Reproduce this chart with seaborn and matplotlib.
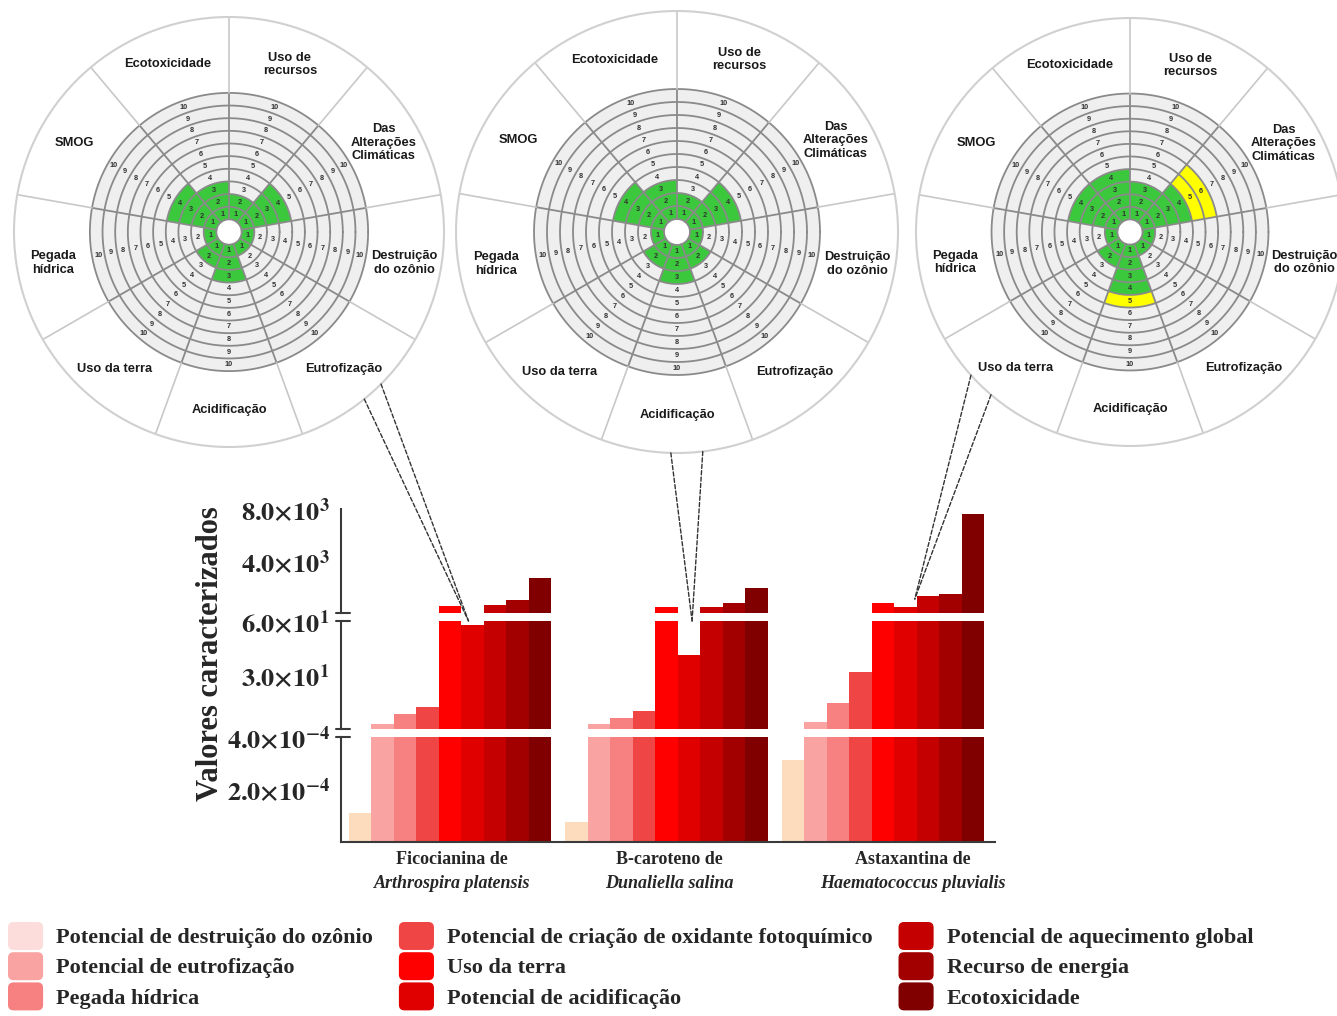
import numpy as np
import pandas as pd
import matplotlib
matplotlib.use("Agg")
import matplotlib.pyplot as plt
from matplotlib.patches import ConnectionPatch, Patch, FancyBboxPatch
from matplotlib.legend_handler import HandlerPatch
from matplotlib.font_manager import FontProperties
import seaborn as sns

# ------------------------------------------------------------------ data
products = ["Ficocianina", "B-caroteno", "Astaxantina"]
product_line1 = ["Ficocianina de", "B-caroteno de", "Astaxantina de"]
product_species = ["Arthrospira platensis", "Dunaliella salina", "Haematococcus pluvialis"]

impact_categories = [
    "Potencial de destruição do ozônio",
    "Potencial de eutrofização",
    "Pegada hídrica",
    "Potencial de criação de oxidante fotoquímico",
    "Uso da terra",
    "Potencial de acidificação",
    "Potencial de aquecimento global",
    "Recurso de energia",
    "Ecotoxicidade",
]

values_ficocianina = [1.10e-4, 2.8, 8.5, 12.5, 617, 57.8, 671, 1075, 2732]
values_bcaroteno = [0.78e-4, 2.8, 6.4, 10.3, 518, 41.2, 564, 823, 2014]
values_astaxantina = [3.13e-4, 4.2, 14.7, 31.9, 823, 518, 1381, 1511, 7618]

bar_colors = ["#fcdcbd", "#f9a3a3", "#f78080", "#f04545", "#ff0000",
              "#e00000", "#c40000", "#a20000", "#800000"]
legend_colors = ["#fddcdc", "#f9a3a3", "#f78080", "#f04545", "#ff0000",
                 "#e00000", "#c40000", "#a20000", "#800000"]

# broken y axis: segments from top to bottom
segments = [(60, 8000), (4e-4, 60), (0, 4e-4)]
segment_ticks = [[4000, 8000], [30, 60], [2e-4, 4e-4]]
segment_ticklabels = [
    [r"$\mathbf{4.0{\times}10^{3}}$", r"$\mathbf{8.0{\times}10^{3}}$"],
    [r"$\mathbf{3.0{\times}10^{1}}$", r"$\mathbf{6.0{\times}10^{1}}$"],
    [r"$\mathbf{2.0{\times}10^{-4}}$", r"$\mathbf{4.0{\times}10^{-4}}$"],
]

# score wheels (one per product)
sector_labels = ["Uso de\nrecursos", "Das\nAlterações\nClimáticas", "Destruição\ndo ozônio",
                 "Eutrofização", "Acidificação", "Uso da terra", "Pegada\nhídrica",
                 "SMOG", "Ecotoxicidade"]
sector_angles_deg = [70, 30, -10, -50, -90, -130, -170, 150, 110]
score_ficocianina = [2, 4, 1, 1, 3, 2, 1, 4, 3]
score_bcaroteno = [2, 4, 1, 2, 3, 2, 1, 4, 3]
score_astaxantina = [3, 4, 1, 1, 4, 2, 1, 4, 4]
alert_ficocianina = [0] * 9
alert_bcaroteno = [0] * 9
alert_astaxantina = [0, 2, 0, 0, 1, 0, 0, 0, 0]
score_levels = list(range(1, 11))

# ------------------------------------------------------------------ style
sns.set_style("white")
plt.rcParams["font.family"] = ["Liberation Sans", "DejaVu Sans"]
plt.rcParams["mathtext.fontset"] = "stix"

W, H = 1337, 1016
fig = plt.figure(figsize=(W / 100, H / 100), dpi=100)

SERIF_B = dict(family=["Liberation Serif", "DejaVu Serif"], weight="bold")
SPINE = "#3a3a3a"
GREEN = "#3cc83c"
YELLOW = "#ffff00"

# ------------------------------------------------------------------ score wheels
HOLE, OUTER_GRID, R_OUT, LABEL_R = 1.0, 11.0, 17.0, 14.1


def add_wheel(cx, cy, radius_px):
    rect = [(cx - radius_px) / W, (H - cy - radius_px) / H, 2 * radius_px / W, 2 * radius_px / H]
    return fig.add_axes(rect, projection="polar")


def draw_wheel(ax, scores, alerts):
    ax.set_ylim(0, R_OUT)
    ax.set_xticks([])
    ax.set_yticks([])
    ax.grid(False)
    ax.spines["polar"].set_color("#d0d0d0")
    ax.spines["polar"].set_linewidth(1.5)
    ang = np.deg2rad(sector_angles_deg)
    width = np.deg2rad(40)
    # light band holding the ten score rings
    ax.bar(0, OUTER_GRID - HOLE, width=2 * np.pi, bottom=HOLE, color="#efefef", linewidth=0)
    ax.bar(ang, scores, width=width, bottom=HOLE, color=GREEN, linewidth=0)
    ax.bar(ang, alerts, width=width, bottom=HOLE + np.array(scores), color=YELLOW, linewidth=0)
    theta = np.linspace(0, 2 * np.pi, 500)
    for r in range(int(HOLE), int(OUTER_GRID) + 1):
        ax.plot(theta, np.full_like(theta, r), color="#8a8a8a", lw=1.3)
    for a in ang + width / 2:
        ax.plot([a, a], [HOLE, OUTER_GRID], color="#8a8a8a", lw=1.3)
        ax.plot([a, a], [OUTER_GRID, R_OUT], color="#c8c8c8", lw=1.2)
    for a in ang:
        for k in score_levels:
            ax.text(a, HOLE + k - 0.5, str(k), fontsize=5.3, fontweight="bold",
                    color="#333333", ha="center", va="center")
    for a, lab in zip(ang, sector_labels):
        ax.text(a, LABEL_R, lab, fontsize=9.3, fontweight="bold", color="#1a1a1a",
                ha="center", va="center", linespacing=1.15)


wheel_axes = [add_wheel(229, 232, 215), add_wheel(677, 232, 221), add_wheel(1130, 232, 214)]
for wax, sc, al in zip(wheel_axes,
                       [score_ficocianina, score_bcaroteno, score_astaxantina],
                       [alert_ficocianina, alert_bcaroteno, alert_astaxantina]):
    draw_wheel(wax, sc, al)

# ------------------------------------------------------------------ broken bar chart
df = pd.DataFrame({
    "produto": np.repeat(products, len(impact_categories)),
    "categoria": impact_categories * len(products),
    "valor": values_ficocianina + values_bcaroteno + values_astaxantina,
})

x_left, x_right = 341 / W, 995 / W
seg_px = [(509.3, 613.3), (621.0, 729.3), (737.3, 842.0)]
bar_axes = []
for (top_px, bot_px), lim, ticks, tlabels in zip(seg_px, segments, segment_ticks, segment_ticklabels):
    ax = fig.add_axes([x_left, (H - bot_px) / H, x_right - x_left, (bot_px - top_px) / H])
    sns.barplot(data=df, x="produto", y="valor", hue="categoria", order=products,
                hue_order=impact_categories, palette=bar_colors, saturation=1,
                width=0.934, gap=0, linewidth=0, errorbar=None, legend=False, ax=ax)
    ax.set_ylim(*lim)
    ax.set_xlim(-0.504, 2.518)
    ax.set_xticks([])
    ax.set_xlabel("")
    ax.set_ylabel("")
    ax.set_yticks(ticks)
    ax.set_yticklabels(tlabels, fontsize=19)
    ax.tick_params(axis="y", length=7, width=1.5, color=SPINE, pad=1)
    for s in ["top", "right", "bottom"]:
        ax.spines[s].set_visible(False)
    ax.spines["left"].set_color(SPINE)
    ax.spines["left"].set_linewidth(1.5)
    ax.patch.set_alpha(0)
    bar_axes.append(ax)

bar_axes[-1].spines["bottom"].set_visible(True)
bar_axes[-1].spines["bottom"].set_color(SPINE)
bar_axes[-1].spines["bottom"].set_linewidth(1.5)

# break marks on the y axis
for ax, ys in zip(bar_axes, [[0], [0, 1], [1]]):
    for y in ys:
        ax.plot([-0.008, 0.013], [y, y], transform=ax.transAxes, color=SPINE,
                lw=1.5, clip_on=False)

fig.text(210 / W, 1 - 654 / H, "Valores caracterizados", rotation=90, fontsize=22,
         ha="center", va="center", **SERIF_B)

# product labels under the groups
label_shift_px = [2, 3, 30]
bottom_ax = bar_axes[-1]
for i, (l1, l2) in enumerate(zip(product_line1, product_species)):
    trans = bottom_ax.get_xaxis_transform()
    bottom_ax.annotate(l1, xy=(i, 0), xycoords=trans, xytext=(label_shift_px[i] * 0.72, -18 * 0.72),
                       textcoords="offset points", ha="center", va="center", fontsize=13, **SERIF_B)
    bottom_ax.annotate(l2, xy=(i, 0), xycoords=trans, xytext=(label_shift_px[i] * 0.72, -41 * 0.72),
                       textcoords="offset points", ha="center", va="center", fontsize=13,
                       style="italic", **SERIF_B)

# dashed leaders from each wheel to the acidification bar
leader_angles_deg = [(-51, -45), (-91.6, -83.3), (-138, -130.5)]
leader_segment = [1, 1, 0]
leader_value = [60, 60, 1150]
leader_frac = [0.32, 0.64, 0.92]
acid_idx = impact_categories.index("Potencial de acidificação")
for g, wax in enumerate(wheel_axes):
    bax = bar_axes[leader_segment[g]]
    bar = bax.containers[acid_idx][g]
    tip = (bar.get_x() + leader_frac[g] * bar.get_width(), leader_value[g])
    for a in leader_angles_deg[g]:
        con = ConnectionPatch(xyA=(np.deg2rad(a), R_OUT), coordsA=wax.transData,
                              xyB=tip, coordsB=bax.transData,
                              linestyle=(0, (3, 1.6)), color="#333333", lw=1.0)
        fig.add_artist(con)


# ------------------------------------------------------------------ legend
class RoundSwatch(HandlerPatch):
    def create_artists(self, legend, orig_handle, xdescent, ydescent, width, height, fontsize, trans):
        p = FancyBboxPatch((-xdescent, -ydescent), width, height,
                           boxstyle="round,pad=0,rounding_size=4",
                           facecolor=orig_handle.get_facecolor(), edgecolor="none", transform=trans)
        return [p]


handles = [Patch(facecolor=c) for c in legend_colors]
fig.legend(handles, impact_categories, ncol=3, loc="upper left",
           bbox_to_anchor=(8 / W, 1 - 922 / H), frameon=False,
           prop=FontProperties(family=["Liberation Serif", "DejaVu Serif"], weight="bold", size=16),
           handlelength=1.58, handleheight=1.56, labelspacing=0.1, handletextpad=0.6,
           columnspacing=1.15, borderaxespad=0, borderpad=0,
           handler_map={Patch: RoundSwatch()})

fig.savefig("out.png", dpi=100)
